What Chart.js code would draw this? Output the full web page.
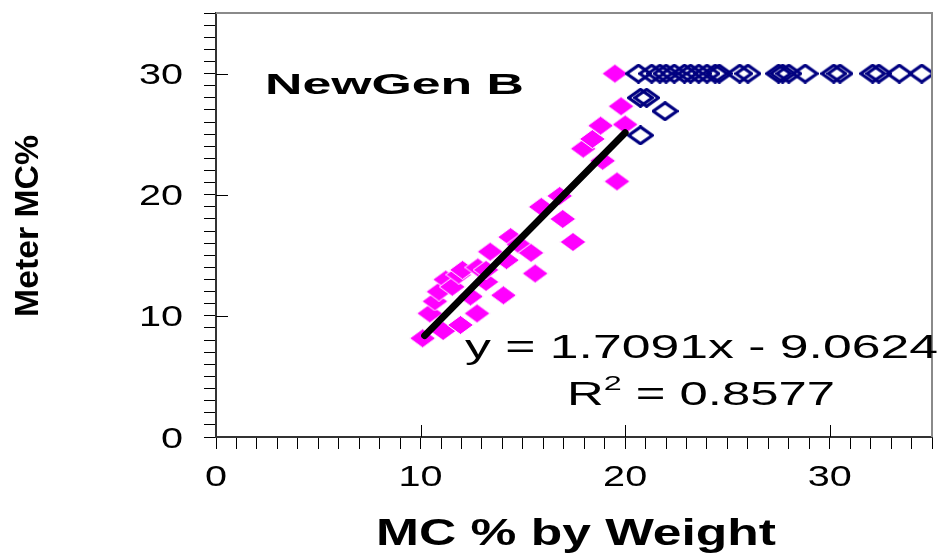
<!DOCTYPE html>
<html>
<head>
<meta charset="utf-8">
<title>NewGen B – meter vs weight moisture</title>
<script src="https://cdn.jsdelivr.net/npm/chart.js@4.4.1/dist/chart.umd.min.js"></script>
<style>
  html, body { margin: 0; padding: 0; background: #ffffff; }
  canvas { display: block; }
</style>
</head>
<body>
<canvas id="chart" width="943" height="554"></canvas>
<script>
// Moisture content by oven-dry weight (%) and the meter reading (%) for each sample
const weightMC = [10.1, 11.1, 11.95, 12.76, 10.45, 10.7, 10.9, 11.23, 11.55, 12.44, 11.87, 12.05,
                  12.8, 13.2, 13.2, 14.05, 13.4, 14.2, 14.4, 14.8, 15.4, 15.6, 15.9, 16.8,
                  16.95, 17.45, 17.95, 18.4, 18.8, 18.9, 19.6, 20.0, 19.8, 19.5];
const meterMC  = [8.15, 8.75, 9.25, 10.2, 10.2, 11.2, 12.0, 13.0, 12.4, 11.6, 13.4, 13.8,
                  14.0, 12.8, 13.8, 11.7, 15.3, 14.6, 16.5, 15.9, 15.2, 13.5, 19.0, 19.9,
                  18.0, 16.1, 23.8, 24.6, 25.7, 22.8, 21.1, 25.8, 27.3, 30.0];

// Samples where the meter tops out (readings pinned near 30%)
const pinnedWeightMC = [20.65, 21.3, 21.7, 22.0, 22.4, 22.9, 23.2, 23.6, 24.0, 24.4, 24.6,
                        25.6, 26.0, 27.5, 27.7, 28.0, 28.8, 30.2, 30.5, 32.1, 32.4, 33.4, 34.5,
                        20.75, 21.05, 21.95, 20.75];
const pinnedMeterMC  = [30, 30, 30, 30, 30, 30, 30, 30, 30, 30, 30,
                        30, 30, 30, 30, 30, 30, 30, 30, 30, 30, 30, 30,
                        28.0, 28.0, 26.9, 24.9];

// Linear fit over the un-pinned samples
const fitSlope = 1.7091;
const fitIntercept = -9.0624;
const fitR2 = 0.8577;
const fitRange = [10.2, 20.0];

// Axis ticks
const xTickValues = [0, 10, 20, 30];
const yTickValues = [0, 10, 20, 30];
const axisMin = 0, axisMax = 35;

const chartLabel = 'NewGen B';
const xTitle = 'MC % by Weight';
const yTitle = 'Meter MC%';

const FONT = '"Liberation Sans", Arial, Helvetica, sans-serif';

// Diamond markers (slightly wider than tall)
function diamond(w, h, fill, stroke, lw) {
  const c = document.createElement('canvas');
  c.width = w; c.height = h;
  const g = c.getContext('2d');
  const i = lw ? lw / 2 : 0;
  g.beginPath();
  g.moveTo(w / 2, i);
  g.lineTo(w - i, h / 2);
  g.lineTo(w / 2, h - i);
  g.lineTo(i, h / 2);
  g.closePath();
  if (fill) { g.fillStyle = fill; g.fill(); }
  if (stroke) { g.strokeStyle = stroke; g.lineWidth = lw; g.stroke(); }
  return c;
}
const filledDiamond = diamond(27, 20, '#ff00ff', '#ffffff', 1);
const openDiamond = diamond(27, 20, null, '#000080', 3.2);

const zip = (xs, ys) => xs.map((x, i) => ({ x, y: ys[i] }));
const fitLine = fitRange.map(x => ({ x, y: fitSlope * x + fitIntercept }));

// Text drawn with a horizontal stretch factor
function drawText(ctx, str, x, y, font, opts) {
  ctx.save();
  ctx.font = font;
  ctx.fillStyle = '#000';
  ctx.textBaseline = 'alphabetic';
  ctx.textAlign = 'left';
  const w = ctx.measureText(str).width;
  const sx = opts.width ? opts.width / w : (opts.sx || 1);
  let x0 = 0;
  if (opts.align === 'center') x0 = -w / 2;
  else if (opts.align === 'right') x0 = -w;
  ctx.translate(x, y);
  ctx.scale(sx, 1);
  ctx.fillText(str, x0, 0);
  ctx.restore();
}

const decorations = {
  id: 'decorations',
  afterDatasetsDraw(chart) {
    const { ctx, chartArea: a, scales: { x, y } } = chart;
    ctx.save();
    // frame on top and right
    ctx.strokeStyle = '#8a8a8a';
    ctx.lineWidth = 2;
    ctx.beginPath();
    ctx.moveTo(a.left, a.top);
    ctx.lineTo(a.right, a.top);
    ctx.lineTo(a.right, a.bottom);
    ctx.stroke();
    // major tick marks reaching into the plot
    ctx.strokeStyle = '#000';
    ctx.lineWidth = 1;
    ctx.beginPath();
    xTickValues.forEach(v => {
      if (v === 0) return;
      const px = Math.round(x.getPixelForValue(v)) + 0.5;
      ctx.moveTo(px, a.bottom);
      ctx.lineTo(px, a.bottom - 12);
    });
    yTickValues.forEach(v => {
      if (v === 0) return;
      const py = Math.round(y.getPixelForValue(v)) + 0.5;
      ctx.moveTo(a.left, py);
      ctx.lineTo(a.left + 12, py);
    });
    ctx.stroke();
    ctx.restore();
  },
  afterDraw(chart) {
    const { ctx, scales: { x, y } } = chart;
    const tickFont = '30px ' + FONT;
    xTickValues.forEach(v => {
      drawText(ctx, String(v), x.getPixelForValue(v), 486, tickFont, { sx: 1.32, align: 'center' });
    });
    yTickValues.forEach(v => {
      drawText(ctx, String(v), 183, y.getPixelForValue(v) + 10.5, tickFont, { sx: 1.32, align: 'right' });
    });

    // axis titles
    drawText(ctx, xTitle, 576, 545, 'bold 36px ' + FONT, { width: 400, align: 'center' });
    ctx.save();
    ctx.translate(38, 226);
    ctx.rotate(-Math.PI / 2);
    drawText(ctx, yTitle, 0, 0, 'bold 33px ' + FONT, { width: 182, align: 'center' });
    ctx.restore();

    // series label
    drawText(ctx, chartLabel, 265, 94, 'bold 29px ' + FONT, { width: 259 });

    // fit equation
    const eq = 'y = ' + fitSlope.toFixed(4) + 'x - ' + Math.abs(fitIntercept).toFixed(4);
    drawText(ctx, eq, 465, 358, '33px ' + FONT, { width: 473 });

    // R squared with superscript
    ctx.save();
    const big = '33px ' + FONT, small = '21px ' + FONT;
    ctx.font = big;
    const wR = ctx.measureText('R').width;
    const rest = ' = ' + fitR2.toFixed(4);
    const wRest = ctx.measureText(rest).width;
    ctx.font = small;
    const w2 = ctx.measureText('2').width;
    const total = wR + w2 + wRest;
    const sx = 268 / total;
    ctx.translate(567, 405);
    ctx.scale(sx, 1);
    ctx.fillStyle = '#000';
    ctx.textBaseline = 'alphabetic';
    ctx.textAlign = 'left';
    ctx.font = big;
    ctx.fillText('R', 0, 0);
    ctx.font = small;
    ctx.fillText('2', wR, -15);
    ctx.font = big;
    ctx.fillText(rest, wR + w2, 0);
    ctx.restore();
  }
};

const axisCommon = {
  type: 'linear',
  min: axisMin,
  max: axisMax,
  ticks: { stepSize: 1, display: false, autoSkip: false },
  grid: { drawOnChartArea: false, drawTicks: true, tickLength: 12, color: '#000', lineWidth: 1 },
  border: { display: true, color: '#333', width: 2 }
};

new Chart(document.getElementById('chart'), {
  type: 'scatter',
  data: {
    datasets: [
      {
        label: 'Linear fit',
        data: fitLine,
        showLine: true,
        borderColor: '#000',
        borderWidth: 7,
        borderCapStyle: 'round',
        pointRadius: 0,
        fill: false,
        order: 0
      },
      {
        label: 'Pinned readings',
        data: zip(pinnedWeightMC, pinnedMeterMC),
        pointStyle: openDiamond,
        pointRadius: 10,
        order: 1
      },
      {
        label: 'Readings',
        data: zip(weightMC, meterMC),
        pointStyle: filledDiamond,
        pointRadius: 10,
        order: 2
      }
    ]
  },
  options: {
    responsive: false,
    animation: false,
    devicePixelRatio: 1,
    layout: { padding: { top: 13, right: 3, left: 0, bottom: 0 } },
    plugins: { legend: { display: false }, tooltip: { enabled: false } },
    scales: {
      x: Object.assign({}, axisCommon, { position: 'bottom', afterFit(s) { s.height = 117; } }),
      y: Object.assign({}, axisCommon, { position: 'left', afterFit(s) { s.width = 216; } })
    }
  },
  plugins: [decorations]
});
</script>
</body>
</html>
